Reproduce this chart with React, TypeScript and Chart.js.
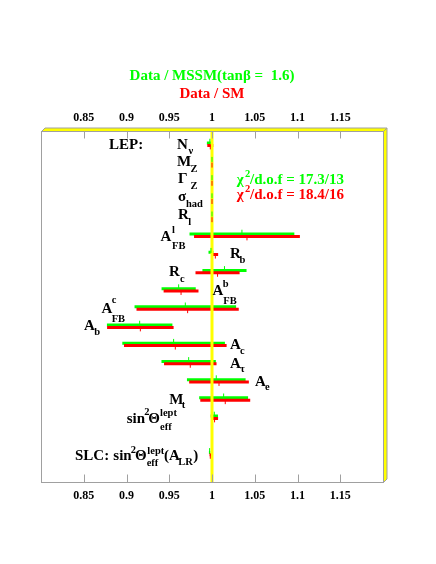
import React, { useEffect, useRef } from "react";
import { Chart, registerables } from "chart.js";

Chart.register(...registerables);

const FONT = '"Liberation Serif", "Times New Roman", Times, serif';
const GREEN = "#00ff00";
const RED = "#ff0000";
const YELLOW = "#ffff00";
const GREY = "#a0a0a0";

// ---- data ----
const titleText = "Data / MSSM(tan\u03B2 =  1.6)";
const subtitleText = "Data / SM";

const categories = [
  "N_nu", "M_Z", "Gamma_Z", "sigma_had", "R_l", "A_FB^l", "R_b", "R_c",
  "A_FB^b", "A_FB^c", "A_b", "A_c", "A_tau", "A_e", "M_t", "sin2theta_eff^lept",
  "SLC sin2theta_eff^lept(A_LR)",
];
const rowIndex = [0, 1, 2, 3, 4, 5, 6, 7, 8, 9, 10, 11, 12, 13, 14, 15, 17];

const mssmCenter = [0.9975, 1.0, 1.0, 1.0, 1.0, 1.035, 0.9988, 1.0146, 0.961, 0.9688, 0.9154, 0.9551, 0.9727, 1.005, 1.0136, 1.0027, 0.9972];
const mssmError = [0.0035, 0.0003, 0.0005, 0.0005, 0.0005, 0.0613, 0.0029, 0.0258, 0.02, 0.0594, 0.0383, 0.06, 0.0318, 0.0343, 0.0286, 0.0043, 0.0008];
const smCenter = [0.998, 1.0, 1.0, 1.0, 1.0, 1.0409, 1.0039, 1.0065, 0.9638, 0.9715, 0.9162, 0.9571, 0.9746, 1.0082, 1.0155, 1.003, 0.998];
const smError = [0.0035, 0.0003, 0.0005, 0.0005, 0.0005, 0.0619, 0.0033, 0.0258, 0.0204, 0.0598, 0.0389, 0.06, 0.0307, 0.0349, 0.0292, 0.0041, 0.0008];

const tickValues = [0.85, 0.9, 0.95, 1, 1.05, 1.1, 1.15];
const tickLabels = ["0.85", "0.9", "0.95", "1", "1.05", "1.1", "1.15"];
const xMin = 0.8;
const xMax = 1.2;
const yMin = -0.69;
const yMax = 18.68;
const referenceValue = 1;

const chiMssm = "/d.o.f = 17.3/13";
const chiSm = "/d.o.f = 18.4/16";

// ---- annotation text pieces: [x, baseline, text, size, color] ----
type Piece = [number, number, string, number, string?];
const M = 15;
const S = 10.5;
const labelPieces: Piece[] = [
  [109, 149, "LEP:", M],
  [177, 149, "N", M], [188.5, 154, "\u03BD", S],
  [177, 165.7, "M", M], [190.5, 171.5, "Z", S],
  [178, 183.3, "\u0393", M], [190.5, 189.3, "Z", S],
  [178, 200.7, "\u03C3", M], [186, 207.3, "had", S],
  [178, 219.3, "R", M], [188.3, 225, "l", S],
  [160.5, 240.5, "A", M], [172, 233, "l", S], [172, 249.3, "FB", S],
  [230, 257.5, "R", M], [239.5, 263.3, "b", S],
  [169, 276, "R", M], [180, 281.7, "c", S],
  [212.5, 295, "A", M], [222.7, 286.7, "b", S], [223.3, 304, "FB", S],
  [101.5, 313.3, "A", M], [111.7, 303.3, "c", S], [111.7, 321.7, "FB", S],
  [84, 330, "A", M], [94.3, 335, "b", S],
  [230, 349.3, "A", M], [240, 354, "c", S],
  [230, 367.7, "A", M], [240, 371.7, "\u03C4", S],
  [255, 386, "A", M], [265, 390, "e", S],
  [169.3, 404, "M", M], [181.7, 408.3, "t", S],
  [126.7, 422.7, "sin", M], [144.3, 415, "2", S], [148.3, 422.7, "\u0398", M], [160, 416, "lept", S], [160, 430, "eff", S],
  [75, 460, "SLC:", M], [113.3, 460, "sin", M], [130.7, 453, "2", S], [135, 460, "\u0398", M], [147.3, 454, "lept", S], [146.7, 466, "eff", S],
  [164, 460, "(A", M], [178.3, 465, "LR", S], [193.3, 460, ")", M],
  [236.7, 184, "\u03C7", M, GREEN], [245, 177, "2", S, GREEN], [250, 184, chiMssm, M, GREEN],
  [236.7, 199.3, "\u03C7", M, RED], [245, 192.3, "2", S, RED], [250, 199.3, chiSm, M, RED],
];

const RED_SHIFT = 0.13;

function barPoints(centers: number[], errors: number[], shift: number) {
  const pts: { x: number; y: number | null }[] = [];
  centers.forEach((c, i) => {
    const y = rowIndex[i] + shift;
    pts.push({ x: c - errors[i], y }, { x: c + errors[i], y }, { x: c, y: null });
  });
  return pts;
}
function tickPoints(centers: number[], shift: number) {
  return centers.map((c, i) => ({ x: c, y: rowIndex[i] + shift }));
}

const framePlugin = {
  id: "frame3d",
  afterDraw(chart: any) {
    const { ctx, chartArea } = chart;
    const left = Math.round(chartArea.left) + 0.5;
    const right = Math.round(chartArea.right) + 0.5;
    const top = Math.round(chartArea.top) + 0.5;
    const bottom = Math.round(chartArea.bottom) - 0.5;
    const d = 3.5;
    ctx.save();
    ctx.fillStyle = YELLOW;
    ctx.beginPath();
    ctx.moveTo(left, top);
    ctx.lineTo(left + d, top - d);
    ctx.lineTo(right + d, top - d);
    ctx.lineTo(right + d, bottom - d);
    ctx.lineTo(right, bottom);
    ctx.lineTo(right, top);
    ctx.closePath();
    ctx.fill();
    ctx.strokeStyle = GREY;
    ctx.lineWidth = 1;
    ctx.beginPath();
    ctx.moveTo(left, top);
    ctx.lineTo(left + d, top - d);
    ctx.lineTo(right + d, top - d);
    ctx.lineTo(right + d, bottom - d);
    ctx.lineTo(right, bottom);
    ctx.stroke();
    ctx.beginPath();
    ctx.moveTo(right, top);
    ctx.lineTo(right + d, top - d);
    ctx.stroke();
    ctx.strokeRect(left, top, right - left, bottom - top);
    // inward tick marks
    const xs = chart.scales.x;
    ctx.beginPath();
    tickValues.forEach((v) => {
      const px = Math.round(xs.getPixelForValue(v)) + 0.5;
      ctx.moveTo(px, top);
      ctx.lineTo(px, top + 7);
      ctx.moveTo(px, bottom);
      ctx.lineTo(px, bottom - 8);
    });
    ctx.stroke();
    // annotation texts
    ctx.textBaseline = "alphabetic";
    ctx.textAlign = "left";
    labelPieces.forEach(([x, y, t, size, color]) => {
      ctx.font = `bold ${size}px ${FONT}`;
      ctx.fillStyle = color || "#000";
      ctx.fillText(t, x, y);
    });
    ctx.restore();
  },
};

export default function App() {
  const ref = useRef<HTMLCanvasElement>(null);
  useEffect(() => {
    const canvas = ref.current;
    if (!canvas) return;
    const tickFont = { family: FONT, size: 12, weight: "bold" as const };
    const xScale = (position: string, height: number) => ({
      type: "linear" as const,
      position,
      min: xMin,
      max: xMax,
      afterBuildTicks: (s: any) => {
        s.ticks = tickValues.map((v) => ({ value: v }));
      },
      afterFit: (s: any) => {
        s.height = height;
      },
      grid: { display: false, drawTicks: false },
      border: { display: false },
      ticks: {
        callback: (_v: any, i: number) => tickLabels[i],
        font: tickFont,
        color: "#000",
        padding: 5.5,
        maxRotation: 0,
        autoSkip: false,
      },
    });
    const chart = new Chart(canvas, {
      type: "scatter",
      data: {
        labels: categories,
        datasets: [
          {
            label: "MSSM",
            data: barPoints(mssmCenter, mssmError, 0),
            showLine: true,
            borderColor: GREEN,
            borderWidth: 3,
            borderCapStyle: "butt",
            pointRadius: 0,
            spanGaps: false,
            order: 5,
          },
          {
            label: "SM",
            data: barPoints(smCenter, smError, RED_SHIFT),
            showLine: true,
            borderColor: RED,
            borderWidth: 3,
            borderCapStyle: "butt",
            pointRadius: 0,
            spanGaps: false,
            order: 4,
          },
          {
            label: "reference",
            data: [
              { x: referenceValue, y: yMin },
              { x: referenceValue, y: yMax },
            ],
            showLine: true,
            borderColor: YELLOW,
            borderWidth: 3,
            pointRadius: 0,
            order: 3,
          },
          {
            label: "MSSM centre",
            data: tickPoints(mssmCenter, -0.1),
            pointStyle: "line",
            pointRotation: 90,
            pointRadius: 2.5,
            pointBorderWidth: 1,
            pointBorderColor: GREEN,
            pointBackgroundColor: GREEN,
            order: 2,
          },
          {
            label: "SM centre",
            data: tickPoints(smCenter, RED_SHIFT + 0.08),
            pointStyle: "line",
            pointRotation: 90,
            pointRadius: 2.5,
            pointBorderWidth: 1,
            pointBorderColor: RED,
            pointBackgroundColor: RED,
            order: 1,
          },
        ],
      } as any,
      options: {
        responsive: false,
        animation: false,
        events: [],
        layout: { padding: { left: 41, right: 53, top: 0, bottom: 0 } },
        plugins: {
          legend: { display: false },
          tooltip: { enabled: false },
          title: {
            display: true,
            text: titleText,
            color: GREEN,
            font: { family: FONT, size: 15, weight: "bold" },
            padding: { top: 67, bottom: 0 },
          },
          subtitle: {
            display: true,
            text: subtitleText,
            color: RED,
            font: { family: FONT, size: 15, weight: "bold" },
            padding: { top: 0, bottom: 0 },
          },
        },
        scales: {
          x: xScale("bottom", 81),
          x2: xScale("top", 27.5),
          y: { type: "linear", reverse: true, min: yMin, max: yMax, display: false },
        },
      } as any,
      plugins: [framePlugin],
    });
    return () => chart.destroy();
  }, []);
  return (
    <div style={{ position: "fixed", left: 0, top: 0, width: 436, height: 564, background: "#fff" }}>
      <canvas ref={ref} width={436} height={564} style={{ display: "block" }} />
    </div>
  );
}
